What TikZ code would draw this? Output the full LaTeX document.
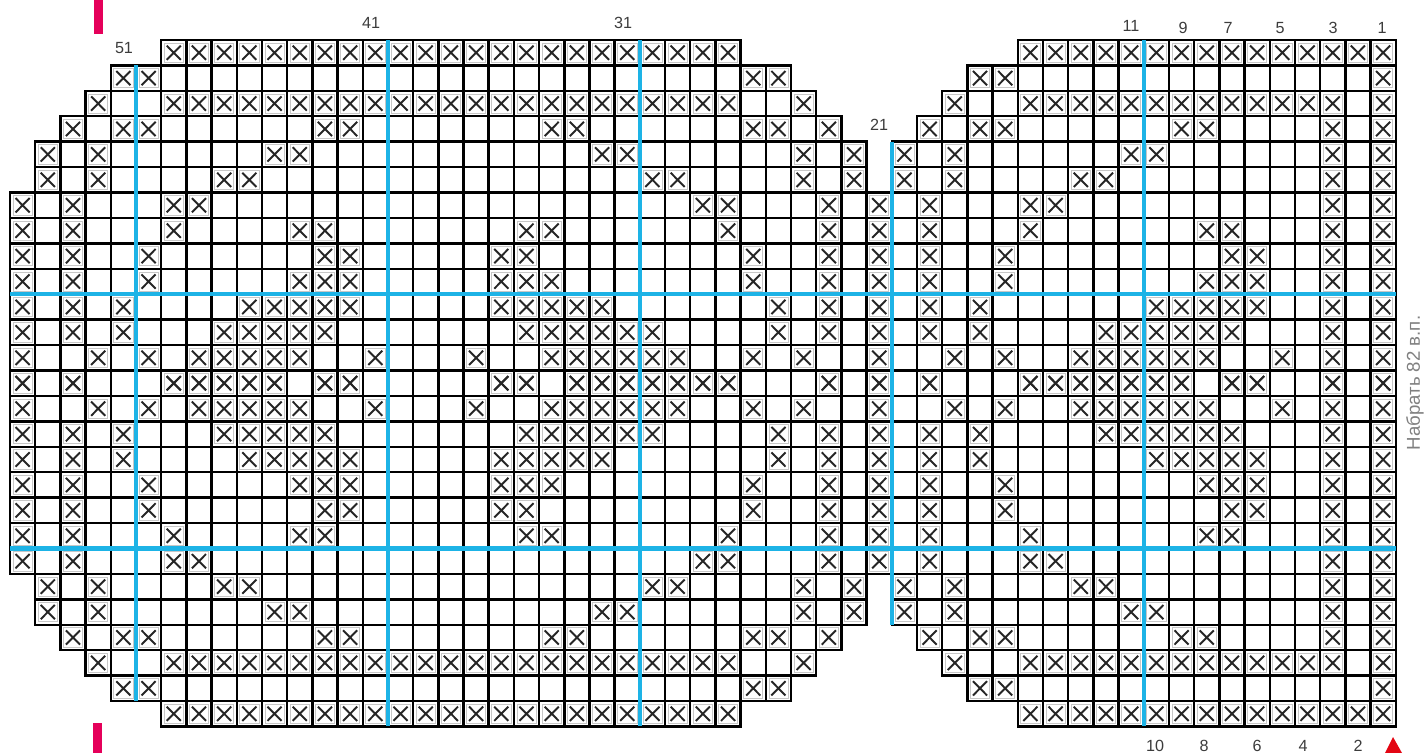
\documentclass[tikz,border=0pt]{standalone}
\usepackage{fontspec}
\setmainfont{Liberation Sans}
\usetikzlibrary{positioning}
\definecolor{guideblue}{HTML}{1DB3E6}
\definecolor{markpink}{HTML}{E5005A}
\definecolor{startred}{HTML}{E30613}
\definecolor{numgray}{HTML}{3C3C3C}

\begin{document}
\begin{tikzpicture}[
    x=0.02cm, y=-0.02cm,
    cell/.style={draw=black, line width=1.4pt},
    crossbox/.style={draw=black!22, line width=0.4pt},
    crossmark/.style={draw=black!85, line width=1.1pt},
    guide/.style={draw=guideblue, line width=2.4pt},
    colnum/.style={font=\fontsize{9.2}{11}\selectfont, text=numgray, inner sep=0pt},
    note/.style={font=\fontsize{10.6}{13}\selectfont, text=black!50, inner sep=0pt, rotate=90},
]
\fill[white] (0,0) rectangle (1427,753);
\useasboundingbox (0,0) rectangle (1427,753);

% chart: 55 columns x 27 rows, (c,r) counted from the top left cell
\begin{scope}[x=0.504cm, y=-0.5086cm, shift={(0.2cm,-0.8cm)}]
% row / left part / right part / crosses -- the lower half mirrors the upper one
\foreach \r/\la/\lb/\ra/\xs in {
    0/6/28/40/{6,7,8,9,10,11,12,13,14,15,16,17,18,19,20,21,22,23,24,25,26,27,28,40,41,42,43,44,45,46,47,48,49,50,51,52,53,54},
    1/4/30/38/{4,5,29,30,38,39,54},
    2/3/31/37/{3,6,7,8,9,10,11,12,13,14,15,16,17,18,19,20,21,22,23,24,25,26,27,28,31,37,40,41,42,43,44,45,46,47,48,49,50,51,52,54},
    3/2/32/36/{2,4,5,12,13,21,22,29,30,32,36,38,39,46,47,52,54},
    4/1/33/35/{1,3,10,11,23,24,31,33,35,37,44,45,52,54},
    5/1/33/35/{1,3,8,9,25,26,31,33,35,37,42,43,52,54},
    6/0/33/34/{0,2,6,7,27,28,32,34,36,40,41,52,54},
    7/0/33/34/{0,2,6,11,12,20,21,28,32,34,36,40,47,48,52,54},
    8/0/33/34/{0,2,5,12,13,19,20,29,32,34,36,39,48,49,52,54},
    9/0/33/34/{0,2,5,11,12,13,19,20,21,29,32,34,36,39,47,48,49,52,54},
    10/0/33/34/{0,2,4,9,10,11,12,13,19,20,21,22,23,30,32,34,36,38,45,46,47,48,49,52,54},
    11/0/33/34/{0,2,4,8,9,10,11,12,20,21,22,23,24,25,30,32,34,36,38,43,44,45,46,47,48,52,54},
    12/0/33/34/{0,3,5,7,8,9,10,11,14,18,21,22,23,24,25,26,29,31,34,37,39,42,43,44,45,46,47,50,52,54},
    13/0/33/34/{0,2,6,7,8,9,10,12,13,19,20,22,23,24,25,26,27,28,32,34,36,40,41,42,43,44,45,46,48,49,52,54}}{
  \pgfmathtruncatemacro{\rr}{26-\r}
  \foreach \y in {\r,\rr}{
    \foreach \c in {\la,...,\lb}{\draw[cell] (\c,\y) rectangle ++(1,1);}
    \foreach \c in {\ra,...,54}{\draw[cell] (\c,\y) rectangle ++(1,1);}
    \foreach \c in \xs{
      \draw[crossbox] (\c+0.12,\y+0.12) rectangle (\c+0.88,\y+0.88);
      \draw[crossmark] (\c+0.22,\y+0.22) -- (\c+0.78,\y+0.78)
                       (\c+0.22,\y+0.78) -- (\c+0.78,\y+0.22);
    }
  }
}

% blue guide lines every ten rows and columns
\draw[guide] (0,10) -- (55,10);
\draw[guide] (0,20) -- (55,20);
\draw[guide] (5,1) -- (5,26);
\draw[guide] (15,0) -- (15,27);
\draw[guide] (25,0) -- (25,27);
\draw[guide] (35,4) -- (35,23);
\draw[guide] (45,0) -- (45,27);
\end{scope}

% column numbers
\node[colnum] (c51) at (124,48) {51};
\node[colnum] (c41) at (371,23) {41};
\node[colnum] (c31) at (623,23) {31};
\node[colnum] (c21) at (879,125) {21};
\node[colnum] (c11) at (1131,26) {11};
\foreach \n/\px in {9/1183,7/1228,5/1280,3/1333,1/1382}
  \node[colnum] (c\n) at (\px,28) {\n};
\foreach \n/\px in {10/1155,8/1204,6/1257,4/1303,2/1358}
  \node[colnum] (c\n) at (\px,746) {\n};

% markers
\fill[markpink] (94,0) rectangle (103,34);
\fill[markpink] (93,723) rectangle (102,753);
\fill[startred] (1385,753) -- (1393,737) -- (1402,753) -- cycle;

\node[note] (caston) at (1415,383) {Набрать 82 в.п.};

\end{tikzpicture}
\end{document}
